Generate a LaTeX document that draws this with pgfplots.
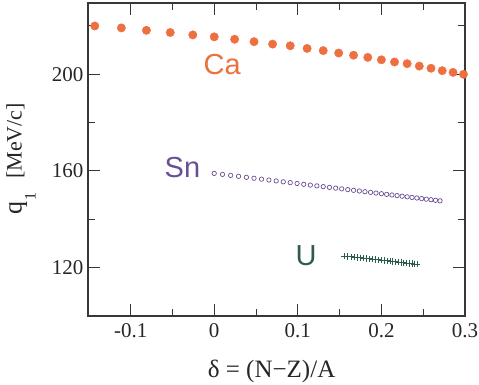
\documentclass[border=0pt]{standalone}
\usepackage{fontspec}
\setmainfont{Liberation Serif}
\newfontfamily\hel{Liberation Sans}
\usepackage{pgfplots}
\pgfplotsset{compat=1.18}
\definecolor{caor}{RGB}{238,112,64}
\definecolor{snpu}{RGB}{106,78,146}
\definecolor{ugr}{RGB}{44,92,76}
\definecolor{axg}{RGB}{55,55,55}
\begin{document}
\begin{tikzpicture}
\path[use as bounding box] (-88pt,-68pt) rectangle (391pt,316pt);
\begin{axis}[
 scale only axis, width=377pt, height=313pt,
 xmin=-0.151, xmax=0.3, ymin=100, ymax=229.5,
 xtick={-0.1,0,0.1,0.2,0.3}, xticklabels={-0.1,0,0.1,0.2,0.3},
 minor xtick={-0.15,-0.05,0.05,0.15,0.25},
 ytick={120,160,200}, yticklabels={120,160,200},
 minor ytick={140,180,220},
 tick align=inside, major tick length=12pt, minor tick length=7pt,
 ticklabel style={font=\fontsize{21}{24}\selectfont, text=black!85},
 xticklabel style={yshift=-4pt},
 yticklabel style={xshift=-1pt},
 /pgf/number format/assume math mode=true,
 axis line style={axg, line width=1.3pt},
 every tick/.style={axg, line width=1pt},
 xlabel={\fontsize{25}{28}\selectfont δ = (N−Z)/A},
 xlabel style={at={(axis description cs:0.487,-0.176)}, anchor=center, text=black!85},
 ylabel={{\fontsize{26}{26}\selectfont q}\hspace{1pt}\raisebox{-14pt}{\fontsize{16}{16}\selectfont 1}\hspace{14pt}{\fontsize{22}{22}\selectfont[MeV/c]}},
 ylabel style={at={(axis description cs:-0.178,0.502)}, anchor=center, inner sep=0pt, text=black!85},
 clip=false,
]
\addplot[only marks, mark=*, mark size=4.2pt, color=caor] coordinates {
(-0.1429,220.0) (-0.1111,219.2) (-0.0811,218.2) (-0.0526,217.3) (-0.0256,216.3)
(0,215.5) (0.0244,214.5) (0.0476,213.5) (0.0698,212.5) (0.0909,211.8)
(0.1111,210.7) (0.1304,209.8) (0.1489,208.8) (0.1667,207.9) (0.1837,207.0)
(0.2,206.0) (0.2157,205.1) (0.2308,204.4) (0.2453,203.4) (0.2593,202.5)
(0.2727,201.5) (0.2857,200.8) (0.2982,200.0)
};
\addplot[only marks, mark=o, mark size=2.2pt, color=snpu, mark options={line width=0.7pt}] coordinates {
(0,159.0) (0.0099,158.58) (0.0196,158.18) (0.0291,157.78) (0.0385,157.38)
(0.0476,157.00) (0.0566,156.62) (0.0654,156.25) (0.0741,155.89) (0.0826,155.53)
(0.0909,155.18) (0.0991,154.84) (0.1071,154.50) (0.1150,154.17) (0.1228,153.84)
(0.1304,153.52) (0.1379,153.21) (0.1453,152.90) (0.1525,152.59) (0.1597,152.29)
(0.1667,152.00) (0.1736,151.71) (0.1803,151.43) (0.1870,151.15) (0.1935,150.87)
(0.2,150.60) (0.2063,150.33) (0.2126,150.07) (0.2188,149.81) (0.2248,149.56)
(0.2308,149.31) (0.2366,149.06) (0.2424,148.82) (0.2481,148.58) (0.2537,148.34)
(0.2593,148.11) (0.2647,147.88) (0.2701,147.66)
};
\addplot[only marks, mark=+, mark size=3.2pt, color=ugr, mark options={line width=0.8pt}] coordinates {
(0.1560,124.80) (0.1598,124.65) (0.1636,124.50) (0.1674,124.36) (0.1712,124.21)
(0.1749,124.06) (0.1786,123.92) (0.1822,123.78) (0.1858,123.64) (0.1894,123.50)
(0.1930,123.36) (0.1965,123.22) (0.2,123.08) (0.2035,122.95) (0.2069,122.81)
(0.2103,122.68) (0.2137,122.55) (0.2170,122.42) (0.2203,122.29) (0.2236,122.16)
(0.2269,122.03) (0.2301,121.91) (0.2333,121.79) (0.2365,121.66) (0.2397,121.54)
(0.2428,121.42)
};
\node[text=caor, font=\hel\fontsize{29}{30}\selectfont] at (axis cs:0.0095,204.1) {Ca};
\node[text=snpu, font=\hel\fontsize{29}{30}\selectfont] at (axis cs:-0.038,161.3) {Sn};
\node[text=ugr, font=\hel\fontsize{29}{30}\selectfont] at (axis cs:0.110,125.1) {U};
\end{axis}
\end{tikzpicture}
\end{document}
